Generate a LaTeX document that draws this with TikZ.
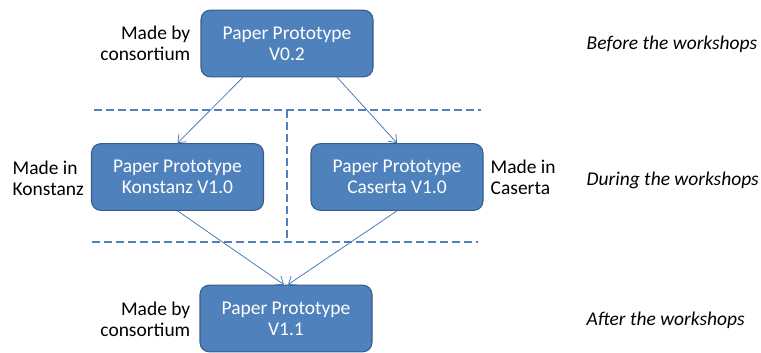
\documentclass[tikz,border=0pt]{standalone}
\usepackage{fontspec}
\setmainfont{Carlito}
\usetikzlibrary{arrows.meta, calc}
\definecolor{boxblue}{HTML}{4F81BD}
\definecolor{boxedge}{HTML}{385D8A}
\definecolor{linkblue}{HTML}{4A7EBB}
\begin{document}
\begin{tikzpicture}[x = .75pt, y = -.75pt,
		proto/.style = {draw = boxedge, fill = boxblue, thick, rounded corners = 7pt, text = white, align = center,
			minimum width = 129pt, minimum height = 50pt, font = \fontsize{14.6}{16}\selectfont},
		madeby/.style = {align = #1, font = \fontsize{14.6}{16}\selectfont},
		phase/.style = {anchor = west, font = \fontsize{14.6}{16}\selectfont\itshape},
		link/.style = {-{Straight Barb[length = 5pt, width = 8pt]}, linkblue, line width = .6pt},
		sep/.style = {boxblue, line width = 1.1pt, dash pattern = on 6pt off 3pt}]
	\useasboundingbox (0, 0) rectangle (761, 353);
	\node[proto] (v02) at (287, 43.5) {Paper Prototype\\V0.2};
	\node[proto] (kon) at (177.5, 177) {Paper Prototype\\Konstanz V1.0};
	\node[proto] (cas) at (397, 177) {Paper Prototype\\Caserta V1.0};
	\node[proto] (v11) at (286, 318.5) {Paper Prototype\\V1.1};
	\node[madeby = right, anchor = east] (byA) at (195, 43.5) {Made by\\consortium};
	\node[madeby = left, anchor = west] (inK) at (8, 178) {Made in\\Konstanz};
	\node[madeby = left, anchor = west] (inC) at (486, 177.5) {Made in\\Caserta};
	\node[madeby = right, anchor = east] (byB) at (195, 319) {Made by\\consortium};
	\node[phase] (before) at (582, 44) {Before the workshops};
	\node[phase] (during) at (582, 180) {During the workshops};
	\node[phase] (after) at (582, 320) {After the workshops};
	% phase separators
	\coordinate (s1a) at (94, 110); \coordinate (s1b) at (481, 110);
	\coordinate (s2a) at (92, 242); \coordinate (s2b) at (478, 242);
	\draw[sep] (s1a) -- (s1b);
	\draw[sep] (s2a) -- (s2b);
	\draw[sep] (287, 110) -- (287, 242);
	\draw[link] ($(v02.south west)!.245!(v02.south east)$) -- (kon.north);
	\draw[link] ($(v02.south west)!.79!(v02.south east)$) -- (cas.north);
	\draw[link] (kon.south) -- ([xshift = -1.5pt]v11.north);
	\draw[link] (cas.south) -- ([xshift = 1.5pt]v11.north);
\end{tikzpicture}
\end{document}
